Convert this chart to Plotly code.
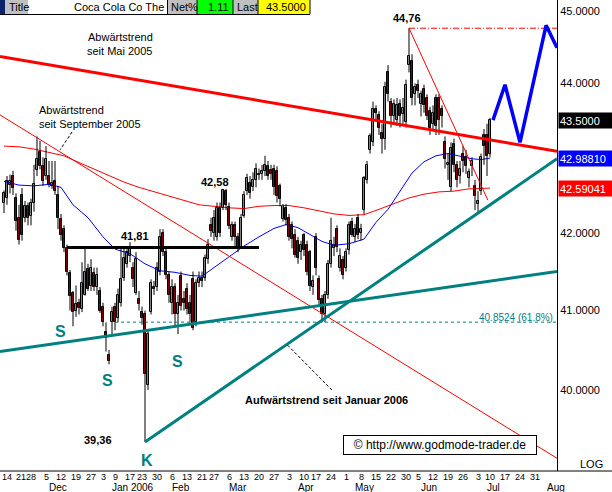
import plotly.graph_objects as go
import pandas as pd
import math

# ---------------- DATA ----------------
holidays = ["2005-11-24", "2005-12-26", "2006-01-02", "2006-01-16", "2006-02-20",
            "2006-04-14", "2006-05-29", "2006-07-04"]
calendar = [d.strftime("%Y-%m-%d") for d in pd.bdate_range("2005-11-14", "2006-08-10")
            if d.strftime("%Y-%m-%d") not in holidays]
pos = {d: i for i, d in enumerate(calendar)}

opens = [42.39, 42.46, 42.63, 42.75, 42.46, 42.20, 42.50, 42.20, 42.35, 42.22,
         42.40, 42.83, 43.07, 42.89, 42.75, 42.75, 42.62, 42.68, 42.50, 42.18,
         42.05, 41.80, 41.48, 41.22, 41.00, 41.10, 41.02, 41.20, 41.53, 41.31,
         41.48, 41.30, 41.25, 41.05, 40.73, 40.44, 40.86, 41.04, 40.90, 41.10,
         41.42, 41.60, 41.70, 41.55, 41.22, 41.15, 40.98, 40.95, 40.06, 40.98,
         41.30, 41.30, 41.50, 42.00, 41.75, 41.45, 41.10, 41.30, 40.95, 41.44,
         41.15, 41.28, 41.10, 41.41, 40.85, 41.35, 41.42, 41.42, 41.66, 42.10,
         42.00, 41.95, 42.33, 42.33, 42.55, 42.34, 41.95, 42.10, 41.95, 41.82,
         42.22, 42.55, 42.66, 42.60, 42.70, 42.78, 42.78, 42.82, 42.88, 42.83,
         42.85, 42.82, 42.62, 42.18, 42.33, 42.20, 42.10, 41.98, 41.90, 41.75,
         41.98, 41.85, 41.75, 41.30, 41.95, 41.40, 41.15, 40.95, 41.20, 41.60,
         41.80, 42.05, 41.55, 41.65, 41.55, 41.78, 42.14, 41.95, 42.20, 42.00,
         42.30, 42.70, 43.10, 43.21, 43.65, 43.57, 43.32, 43.24, 44.15, 43.75,
         43.55, 43.50, 43.72, 43.58, 43.48, 44.25, 44.30, 43.85, 43.98, 43.72,
         43.92, 43.80, 43.62, 43.45, 43.80, 43.80, 43.65, 43.20, 42.90, 42.60,
         43.18, 42.90, 42.75, 43.05, 43.00, 42.72, 42.88, 42.62, 42.38, 42.55,
         43.30, 43.30, 43.05]
highs = [42.56, 42.75, 42.77, 42.82, 42.52, 42.37, 42.59, 42.42, 42.40, 42.45,
         42.90, 43.28, 43.22, 43.00, 43.15, 42.95, 42.95, 42.95, 42.62, 42.25,
         42.10, 41.85, 41.52, 41.25, 41.32, 41.15, 41.62, 41.80, 41.60, 41.66,
         41.55, 41.55, 41.30, 41.10, 40.85, 40.50, 41.05, 41.10, 41.28, 41.82,
         41.80, 41.82, 41.88, 41.62, 41.75, 41.25, 41.05, 41.00, 40.75, 41.40,
         41.38, 41.62, 42.05, 42.05, 41.80, 41.50, 41.40, 41.35, 41.20, 41.50,
         41.25, 41.35, 41.20, 41.50, 41.40, 41.50, 41.50, 41.72, 41.92, 42.20,
         42.30, 42.40, 42.40, 42.58, 42.58, 42.40, 42.15, 42.15, 42.00, 42.25,
         42.55, 42.78, 42.75, 42.80, 42.92, 42.85, 42.90, 43.02, 42.95, 42.90,
         42.90, 42.88, 42.65, 42.38, 42.38, 42.25, 42.15, 42.05, 41.95, 41.90,
         42.00, 41.90, 41.78, 41.45, 42.00, 41.45, 41.20, 41.25, 41.65, 42.20,
         41.95, 42.10, 41.80, 41.70, 41.80, 42.15, 42.20, 42.12, 42.25, 42.12,
         42.75, 42.95, 43.32, 43.75, 43.70, 43.62, 43.45, 44.02, 44.25, 43.80,
         43.78, 43.80, 43.78, 43.80, 44.05, 44.76, 44.40, 44.00, 44.05, 43.90,
         43.98, 43.85, 43.68, 43.70, 43.85, 43.85, 43.70, 43.28, 43.05, 43.20,
         43.25, 42.95, 42.95, 43.15, 43.10, 42.85, 43.00, 42.70, 42.55, 43.05,
         43.38, 43.45, 43.53]
lows = [42.26, 42.37, 42.52, 42.50, 42.03, 41.85, 41.90, 42.14, 42.10, 42.10,
        42.28, 42.75, 42.84, 42.62, 42.70, 42.60, 42.58, 42.50, 42.05, 41.90,
        41.75, 41.45, 41.00, 40.80, 40.92, 40.95, 40.98, 41.19, 41.25, 41.25,
        41.25, 41.20, 40.97, 40.80, 40.48, 40.32, 40.70, 40.75, 40.85, 41.05,
        41.38, 41.55, 41.62, 41.30, 41.20, 41.00, 40.82, 39.36, 40.00, 40.95,
        41.20, 41.25, 41.45, 41.70, 41.40, 41.10, 40.95, 40.78, 40.70, 41.00,
        41.00, 40.95, 40.85, 40.75, 40.80, 41.30, 41.30, 41.38, 41.60, 41.95,
        41.90, 41.90, 41.95, 42.30, 42.30, 42.05, 41.90, 41.80, 41.75, 41.80,
        42.20, 42.50, 42.45, 42.55, 42.60, 42.70, 42.70, 42.75, 42.70, 42.70,
        42.50, 42.40, 42.35, 42.15, 42.10, 41.90, 41.80, 41.68, 41.60, 41.65,
        41.70, 41.45, 41.25, 41.20, 41.45, 41.05, 40.85, 40.85, 41.15, 41.55,
        41.70, 41.75, 41.50, 41.40, 41.50, 41.72, 41.95, 41.88, 41.92, 41.90,
        42.25, 42.65, 43.05, 43.15, 43.50, 43.30, 43.05, 43.10, 43.75, 43.40,
        43.45, 43.42, 43.40, 43.45, 43.40, 44.15, 43.70, 43.70, 43.80, 43.55,
        43.60, 43.50, 43.30, 43.35, 43.30, 43.30, 43.40, 42.85, 42.70, 42.55,
        42.80, 42.60, 42.65, 42.80, 42.78, 42.60, 42.75, 42.30, 42.27, 42.50,
        42.90, 42.75, 43.00]
closes = [42.52, 42.68, 42.69, 42.59, 42.16, 41.91, 41.97, 42.35, 42.20, 42.40,
          42.65, 42.98, 42.89, 42.68, 42.98, 42.63, 42.66, 42.55, 42.20, 41.98,
          41.80, 41.50, 41.18, 40.98, 41.08, 41.03, 41.35, 41.50, 41.28, 41.55,
          41.30, 41.45, 41.00, 40.85, 40.65, 40.36, 40.98, 40.85, 41.20, 41.40,
          41.68, 41.75, 41.80, 41.40, 41.66, 41.08, 40.90, 40.20, 40.70, 41.35,
          41.28, 41.55, 41.95, 41.75, 41.45, 41.20, 41.30, 40.95, 41.10, 41.06,
          41.10, 41.02, 40.95, 40.78, 41.35, 41.42, 41.38, 41.68, 41.85, 42.03,
          42.20, 42.33, 42.00, 42.56, 42.37, 42.09, 42.10, 41.95, 41.82, 42.20,
          42.50, 42.72, 42.53, 42.70, 42.85, 42.76, 42.82, 42.90, 42.75, 42.78,
          42.60, 42.49, 42.45, 42.35, 42.17, 41.95, 41.92, 41.72, 41.68, 41.85,
          41.78, 41.50, 41.32, 41.38, 41.55, 41.14, 40.95, 41.20, 41.60, 41.90,
          41.85, 41.82, 41.70, 41.45, 41.75, 42.10, 41.98, 42.05, 41.98, 42.05,
          42.72, 42.90, 43.28, 43.65, 43.60, 43.40, 43.24, 43.95, 43.85, 43.55,
          43.72, 43.70, 43.55, 43.66, 43.98, 44.38, 43.80, 43.95, 43.90, 43.85,
          43.70, 43.55, 43.40, 43.60, 43.42, 43.50, 43.55, 42.98, 42.92, 43.12,
          42.90, 42.70, 42.85, 42.95, 42.88, 42.80, 42.95, 42.48, 42.42, 43.00,
          43.15, 43.02, 43.50]

# short moving average (blue) and long moving average (red), read at selected bars
ma_short_idx = [0, 5, 10, 15, 19, 23, 28, 33, 37, 42, 47, 52, 57, 62, 66, 70, 75, 80,
                85, 90, 94, 98, 102, 106, 110, 115, 120, 124, 128, 132, 136, 140, 144,
                148, 152, 156, 159, 162]
ma_short_val = [42.68, 42.63, 42.62, 42.64, 42.60, 42.37, 42.20, 41.95, 41.79, 41.73,
                41.60, 41.51, 41.49, 41.45, 41.44, 41.55, 41.68, 41.83, 41.95, 42.06,
                42.11, 42.07, 41.98, 41.89, 41.84, 41.86, 41.92, 42.14, 42.31, 42.55,
                42.79, 42.94, 43.02, 43.05, 43.02, 42.98, 42.97, 42.9881]
ma_long_idx = [0, 5, 10, 15, 20, 25, 30, 35, 40, 45, 50, 55, 60, 65, 70, 75, 80, 85,
               90, 95, 100, 105, 110, 115, 120, 125, 130, 135, 140, 145, 150, 155, 162]
ma_long_val = [43.15, 43.14, 43.11, 43.07, 43.02, 42.93, 42.84, 42.75, 42.67, 42.60,
               42.54, 42.49, 42.42, 42.37, 42.35, 42.33, 42.32, 42.35, 42.36, 42.36,
               42.33, 42.29, 42.25, 42.23, 42.24, 42.31, 42.38, 42.46, 42.51, 42.54,
               42.55, 42.58, 42.59041]

# trend lines: (bar index, price) anchors
X_LEFT, X_RIGHT = -1.333, 184.333
trend_may05_x, trend_may05_y = [X_LEFT, X_RIGHT], [44.37, 43.08]
trend_sep05_x, trend_sep05_y = [X_LEFT, X_RIGHT], [43.57, 39.16]
trend_peak_x, trend_peak_y = [135, 161.3], [44.76, 42.43]
peak_level_x, peak_level_y = [135, X_RIGHT], [44.76, 44.76]
support_long_x, support_long_y = [X_LEFT, X_RIGHT], [40.48, 41.50]
trend_jan06_x, trend_jan06_y = [47, X_RIGHT], [39.36, 42.98]
fib_x, fib_y = [37, X_RIGHT], [40.8524, 40.8524]
neck_x, neck_y = [21, 85], [41.81, 41.81]
proj_x, proj_y = [163, 167, 172, 180.7, X_RIGHT], [43.50, 43.98, 43.20, 44.80, 44.49]
ptr_sep_x, ptr_sep_y = [22.7, 18.7], [43.34, 43.10]
ptr_jan_x, ptr_jan_y = [109.3, 94.3], [40.00, 40.57]

tick_dates = ["2005-11-14", "2005-11-21", "2005-11-28", "2005-12-05", "2005-12-12",
              "2005-12-19", "2005-12-27", "2006-01-03", "2006-01-09", "2006-01-17",
              "2006-01-23", "2006-01-30", "2006-02-06", "2006-02-13", "2006-02-21",
              "2006-02-27", "2006-03-06", "2006-03-13", "2006-03-20", "2006-03-27",
              "2006-04-03", "2006-04-10", "2006-04-17", "2006-04-24", "2006-05-01",
              "2006-05-08", "2006-05-15", "2006-05-22", "2006-05-30", "2006-06-05",
              "2006-06-12", "2006-06-19", "2006-06-26", "2006-07-03", "2006-07-10",
              "2006-07-17", "2006-07-24", "2006-07-31"]
month_labels = ["Dec", "Jan 2006", "Feb", "Mar", "Apr", "May", "Jun", "Jul", "Aug"]
month_dates = ["2005-12-01", "2006-01-03", "2006-02-01", "2006-03-01", "2006-04-03",
               "2006-05-01", "2006-06-01", "2006-07-03", "2006-08-01"]
y_ticks = [40, 41, 42, 44, 45]

# ---------------- FIGURE ----------------
FONT = "Arial, Liberation Sans, sans-serif"
W, H = 612, 492
ML, MR, MT, MB = 0, 55, 0, 21
PW, PH = W - ML - MR, H - MT - MB


def px(x):
    return x / PW


def py(y):
    return 1 - y / PH


TEAL = "#008080"
RED = "#FF0000"
BODY_W = 0.72

fig = go.Figure()
fig.add_trace(go.Scatter(x=ma_long_idx, y=ma_long_val, mode="lines",
                         line=dict(color=RED, width=1)))
fig.add_trace(go.Scatter(x=ma_short_idx, y=ma_short_val, mode="lines",
                         line=dict(color="#0000FF", width=1)))

# candles: wicks + bodies
idx = list(range(len(opens)))
wx, wy = [], []
for i in idx:
    wx += [i, i, None]
    wy += [lows[i], highs[i], None]
fig.add_trace(go.Scatter(x=wx, y=wy, mode="lines", line=dict(color="black", width=1)))
base = [min(o, c) for o, c in zip(opens, closes)]
size = [max(abs(c - o), 0.004) for o, c in zip(opens, closes)]
colors = ["white" if c >= o else RED for o, c in zip(opens, closes)]
fig.add_trace(go.Bar(x=idx, y=size, base=base, width=BODY_W,
                     marker=dict(color=colors, line=dict(color="black", width=1))))


def line(xs, ys, color, width, dash=None):
    fig.add_trace(go.Scatter(x=xs, y=ys, mode="lines",
                             line=dict(color=color, width=width, dash=dash)))


line(trend_sep05_x, trend_sep05_y, RED, 1)
line(trend_peak_x, trend_peak_y, RED, 1)
line(peak_level_x, peak_level_y, RED, 1, "6px,2px,1px,2px")
line(trend_may05_x, trend_may05_y, RED, 3)
line(fib_x, fib_y, TEAL, 1, "3px,3px")
line(support_long_x, support_long_y, TEAL, 3)
line(trend_jan06_x, trend_jan06_y, TEAL, 3)
line(neck_x, neck_y, "black", 3)
line(ptr_sep_x, ptr_sep_y, "black", 1, "3px,2px")
line(ptr_jan_x, ptr_jan_y, "black", 1, "3px,2px")
line(proj_x, proj_y, "#0000FF", 3.5)

ann = []


def text(x, y, t, size=11, color="black", bold=False, xanchor="left", yanchor="middle", **kw):
    if bold:
        t = "<b>" + t + "</b>"
    ann.append(dict(x=px(x), y=py(y), xref="paper", yref="paper", text=t, showarrow=False,
                    xanchor=xanchor, yanchor=yanchor,
                    font=dict(family=FONT, size=size, color=color), **kw))


# chart annotations
text(86, 37, "Abwärtstrend")
text(85, 51, "seit Mai 2005")
text(37, 110, "Abwärtstrend")
text(37, 124, "seit September 2005")
text(407, 18, "44,76", bold=True, xanchor="center")
text(215, 182, "42,58", bold=True, xanchor="center")
text(135, 236, "41,81", bold=True, xanchor="center")
text(98, 440, "39,36", bold=True, xanchor="center")
text(243, 400, "Aufwärtstrend seit Januar 2006", bold=True)
text(555, 317, "40.8524 (61.8%)", size=10, color=TEAL, xanchor="right")
for sx, sy, s in [(60, 331, "S"), (107, 380, "S"), (177, 361, "S"), (147, 460, "K")]:
    text(sx, sy, s, size=16, color=TEAL, bold=True, xanchor="center")
ann.append(dict(x=px(440), y=py(445), xref="paper", yref="paper",
                text="© http://www.godmode-trader.de", showarrow=False,
                font=dict(family=FONT, size=12, color="black"),
                bgcolor="white", bordercolor="black", borderwidth=1, borderpad=2,
                width=188, xanchor="center", yanchor="middle"))

# x-axis labels (first two nudged apart like the original's crowded labels)
label_shift = {0: -3, 1: 2}
for k, d in enumerate(tick_dates):
    ann.append(dict(x=pos[d], y=py(477), xref="x", yref="paper", text=str(int(d[-2:])),
                    showarrow=False, xanchor="left" if k == 0 else "center",
                    xshift=label_shift.get(k, 0), borderpad=0,
                    yanchor="middle", font=dict(family=FONT, size=9, color="black")))
for m, d in zip(month_labels, month_dates):
    ann.append(dict(x=pos[d], y=py(487), xref="x", yref="paper", text=m, xshift=7,
                    showarrow=False, xanchor="left", yanchor="middle",
                    font=dict(family=FONT, size=10, color="black")))

# price boxes on right axis
for val, bg in [(closes[-1], "black"), (ma_short_val[-1], "#0000FF"), (ma_long_val[-1], RED)]:
    label = "%.4f" % val if bg == "black" else "%.5f" % val
    ann.append(dict(x=px(558), y=math.log10(val), xref="paper", yref="y", text=label,
                    showarrow=False, xanchor="left", yanchor="middle", align="left",
                    bgcolor=bg, width=51, height=13, borderpad=1,
                    font=dict(family=FONT, size=11, color="white")))
text(605, 464, "LOG", xanchor="right")

# title bar
shapes = []
bar = [(0, 5, "#0A246A"), (5, 28, "#C0C0C0"), (28, 168, "white"), (168, 197, "#C0C0C0"),
       (197, 233, "#00FF00"), (233, 258, "#C0C0C0"), (258, 310, "#FFFF00")]
for x0, x1, c in bar:
    shapes.append(dict(type="rect", xref="paper", yref="paper", x0=px(x0), x1=px(x1),
                       y0=py(14), y1=py(0), fillcolor=c, line=dict(width=0), layer="above"))
for xv in [167.5, 197, 233, 258, 310]:
    shapes.append(dict(type="line", xref="paper", yref="paper", x0=px(xv), x1=px(xv),
                       y0=py(14), y1=py(0), line=dict(color="black", width=1), layer="above"))
shapes.append(dict(type="line", xref="paper", yref="paper", x0=0, x1=px(310),
                   y0=py(14.5), y1=py(14.5), line=dict(color="black", width=1), layer="above"))
shapes.append(dict(type="line", xref="paper", yref="paper", x0=0, x1=px(612),
                   y0=0, y1=0, line=dict(color="black", width=1), layer="above"))
text(7, 7, "Title")
text(166, 7, "Coca Cola Co The", xanchor="right")
text(169, 7, "Net%")
text(231, 7, "1.11", xanchor="right")
text(235, 7, "Last")
text(308, 7, "43.5000", xanchor="right")

fig.update_layout(
    width=W, height=H, margin=dict(l=ML, r=MR, t=MT, b=MB, pad=0),
    paper_bgcolor="white", plot_bgcolor="white", showlegend=False,
    annotations=ann, shapes=shapes, bargap=0,
    font=dict(family=FONT, size=11, color="black"),
    xaxis=dict(range=[X_LEFT, X_RIGHT], showticklabels=False, showgrid=False,
               zeroline=False, showline=False, ticks=""),
    yaxis=dict(type="log", range=[1.591127, 1.654698], side="right", showgrid=False,
               zeroline=False, showline=True, linecolor="black", linewidth=1,
               tickvals=y_ticks, ticktext=["%.4f" % v for v in y_ticks], ticks="",
               tickfont=dict(family=FONT, size=11, color="black")),
)
fig.write_html("out.html", config={"displayModeBar": False},
               post_script="document.body.style.margin='0px';")
